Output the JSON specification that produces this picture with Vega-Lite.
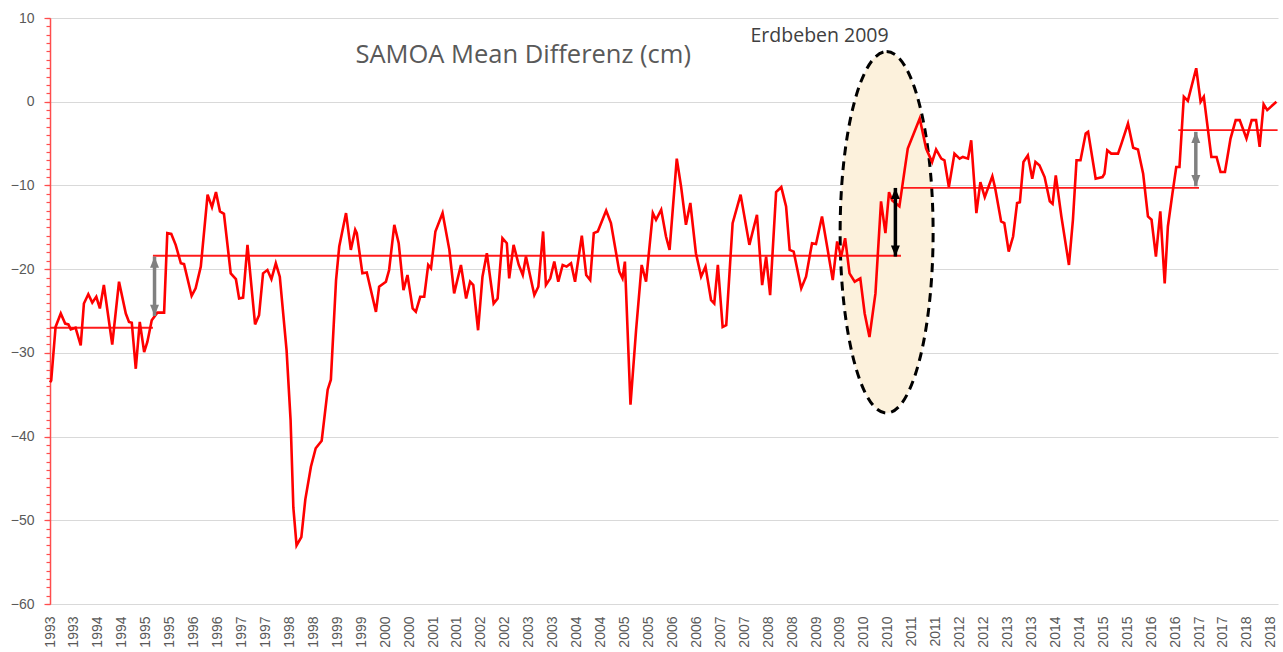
{
  "$schema": "https://vega.github.io/schema/vega-lite/v6.json",
  "width": 1228,
  "height": 586,
  "autosize": {"type": "none"},
  "padding": {"left": 50, "top": 18, "right": 5, "bottom": 48},
  "background": "white",
  "config": {"view": {"stroke": null}, "font": "Liberation Sans"},
  "resolve": {"axis": {"x": "independent", "y": "independent"}},
  "datasets": {
    "messung": [
      {"monat": 0, "wert": -33.5}, {"monat": 0.3, "wert": -33.3}, {"monat": 1.4, "wert": -26.9}, {"monat": 2.7, "wert": -25.3},
      {"monat": 3.8, "wert": -26.5}, {"monat": 4.6, "wert": -26.6}, {"monat": 5.2, "wert": -27.2}, {"monat": 6.4, "wert": -27.0},
      {"monat": 7.7, "wert": -29.1}, {"monat": 8.5, "wert": -24.1}, {"monat": 9.6, "wert": -23.0}, {"monat": 10.6, "wert": -24.0},
      {"monat": 11.6, "wert": -23.3}, {"monat": 12.5, "wert": -24.7}, {"monat": 13.5, "wert": -21.9}, {"monat": 15.6, "wert": -29.0},
      {"monat": 17.3, "wert": -21.5}, {"monat": 19.0, "wert": -25.3}, {"monat": 19.8, "wert": -26.3}, {"monat": 20.5, "wert": -26.4},
      {"monat": 21.5, "wert": -31.9}, {"monat": 22.5, "wert": -26.3}, {"monat": 23.6, "wert": -29.9}, {"monat": 24.4, "wert": -28.7},
      {"monat": 25.5, "wert": -26.1}, {"monat": 26.9, "wert": -25.2}, {"monat": 28.6, "wert": -25.2}, {"monat": 29.4, "wert": -15.7},
      {"monat": 30.4, "wert": -15.8}, {"monat": 31.5, "wert": -17.1}, {"monat": 32.8, "wert": -19.3}, {"monat": 33.6, "wert": -19.4},
      {"monat": 35.5, "wert": -23.2}, {"monat": 36.5, "wert": -22.3}, {"monat": 37.8, "wert": -19.7}, {"monat": 39.5, "wert": -11.1},
      {"monat": 40.6, "wert": -12.6}, {"monat": 41.6, "wert": -10.8}, {"monat": 42.6, "wert": -13.1}, {"monat": 43.6, "wert": -13.4},
      {"monat": 45.3, "wert": -20.5}, {"monat": 46.6, "wert": -21.2}, {"monat": 47.4, "wert": -23.5}, {"monat": 48.4, "wert": -23.4},
      {"monat": 49.5, "wert": -17.1}, {"monat": 51.4, "wert": -26.6}, {"monat": 52.4, "wert": -25.5}, {"monat": 53.4, "wert": -20.5},
      {"monat": 54.5, "wert": -20.1}, {"monat": 55.5, "wert": -21.2}, {"monat": 56.6, "wert": -19.3}, {"monat": 57.6, "wert": -20.9},
      {"monat": 59.3, "wert": -29.7}, {"monat": 60.3, "wert": -38.0}, {"monat": 61.0, "wert": -48.5}, {"monat": 61.8, "wert": -53.0},
      {"monat": 63.0, "wert": -52.0}, {"monat": 64.0, "wert": -47.5}, {"monat": 65.4, "wert": -43.6}, {"monat": 66.6, "wert": -41.4},
      {"monat": 68.1, "wert": -40.5}, {"monat": 69.6, "wert": -34.4}, {"monat": 70.4, "wert": -33.2}, {"monat": 71.7, "wert": -21.3},
      {"monat": 72.5, "wert": -17.3}, {"monat": 74.2, "wert": -13.3}, {"monat": 75.4, "wert": -17.7}, {"monat": 76.5, "wert": -15.3},
      {"monat": 76.9, "wert": -15.7}, {"monat": 78.3, "wert": -20.5}, {"monat": 79.4, "wert": -20.4}, {"monat": 81.7, "wert": -25.1},
      {"monat": 82.5, "wert": -22.1}, {"monat": 84.2, "wert": -21.5}, {"monat": 85.0, "wert": -20.1}, {"monat": 86.3, "wert": -14.7},
      {"monat": 87.4, "wert": -16.9}, {"monat": 88.6, "wert": -22.5}, {"monat": 89.6, "wert": -20.7}, {"monat": 90.9, "wert": -24.7},
      {"monat": 91.7, "wert": -25.1}, {"monat": 92.8, "wert": -23.3}, {"monat": 93.8, "wert": -23.3}, {"monat": 94.8, "wert": -19.5},
      {"monat": 95.5, "wert": -19.9}, {"monat": 96.6, "wert": -15.5}, {"monat": 98.4, "wert": -13.3}, {"monat": 100.1, "wert": -17.7},
      {"monat": 101.3, "wert": -22.9}, {"monat": 103.0, "wert": -19.5}, {"monat": 104.3, "wert": -23.5}, {"monat": 105.3, "wert": -21.5},
      {"monat": 106.1, "wert": -21.9}, {"monat": 107.3, "wert": -27.3}, {"monat": 108.4, "wert": -20.9}, {"monat": 109.5, "wert": -18.1},
      {"monat": 111.2, "wert": -24.1}, {"monat": 112.2, "wert": -23.5}, {"monat": 113.4, "wert": -16.3}, {"monat": 114.5, "wert": -16.9},
      {"monat": 115.1, "wert": -21.1}, {"monat": 116.2, "wert": -17.1}, {"monat": 117.5, "wert": -19.5}, {"monat": 118.5, "wert": -20.7},
      {"monat": 119.3, "wert": -18.5}, {"monat": 121.4, "wert": -23.1}, {"monat": 122.4, "wert": -22.1}, {"monat": 123.6, "wert": -15.5},
      {"monat": 124.3, "wert": -21.9}, {"monat": 125.4, "wert": -21.1}, {"monat": 126.4, "wert": -19.1}, {"monat": 127.4, "wert": -21.5},
      {"monat": 128.5, "wert": -19.5}, {"monat": 129.5, "wert": -19.7}, {"monat": 130.6, "wert": -19.3}, {"monat": 131.6, "wert": -21.5},
      {"monat": 133.3, "wert": -16.0}, {"monat": 134.4, "wert": -20.7}, {"monat": 135.4, "wert": -21.3}, {"monat": 136.3, "wert": -15.7},
      {"monat": 137.3, "wert": -15.5}, {"monat": 139.4, "wert": -13.0}, {"monat": 140.6, "wert": -14.5}, {"monat": 142.7, "wert": -20.3},
      {"monat": 143.5, "wert": -21.1}, {"monat": 144.1, "wert": -19.1}, {"monat": 145.5, "wert": -36.2}, {"monat": 146.9, "wert": -27.3},
      {"monat": 148.3, "wert": -19.5}, {"monat": 149.4, "wert": -21.5}, {"monat": 151.1, "wert": -13.3}, {"monat": 151.9, "wert": -14.1},
      {"monat": 153.2, "wert": -12.9}, {"monat": 154.4, "wert": -16.1}, {"monat": 155.3, "wert": -17.7}, {"monat": 157.1, "wert": -6.8},
      {"monat": 158.2, "wert": -10.2}, {"monat": 159.4, "wert": -14.7}, {"monat": 160.5, "wert": -12.1}, {"monat": 161.9, "wert": -18.1},
      {"monat": 163.2, "wert": -20.9}, {"monat": 164.3, "wert": -19.7}, {"monat": 165.7, "wert": -23.7}, {"monat": 166.5, "wert": -24.1},
      {"monat": 167.4, "wert": -19.5}, {"monat": 168.6, "wert": -26.9}, {"monat": 169.5, "wert": -26.7}, {"monat": 171.1, "wert": -14.5},
      {"monat": 173.1, "wert": -11.1}, {"monat": 175.3, "wert": -17.1}, {"monat": 177.2, "wert": -13.5}, {"monat": 178.5, "wert": -21.9},
      {"monat": 179.5, "wert": -18.5}, {"monat": 180.5, "wert": -23.1}, {"monat": 182.0, "wert": -10.8}, {"monat": 183.3, "wert": -10.2},
      {"monat": 184.5, "wert": -12.5}, {"monat": 185.4, "wert": -17.7}, {"monat": 186.4, "wert": -17.9}, {"monat": 188.3, "wert": -22.3},
      {"monat": 189.5, "wert": -20.9}, {"monat": 191.0, "wert": -16.9}, {"monat": 192.0, "wert": -17.0}, {"monat": 193.5, "wert": -13.7},
      {"monat": 195.0, "wert": -17.9}, {"monat": 196.2, "wert": -21.3}, {"monat": 197.3, "wert": -16.7}, {"monat": 198.3, "wert": -18.5},
      {"monat": 199.3, "wert": -16.3}, {"monat": 200.4, "wert": -20.5}, {"monat": 201.7, "wert": -21.5}, {"monat": 203.1, "wert": -21.1},
      {"monat": 204.2, "wert": -25.3}, {"monat": 205.4, "wert": -28.1}, {"monat": 206.9, "wert": -22.9}, {"monat": 208.3, "wert": -11.9},
      {"monat": 209.4, "wert": -15.7}, {"monat": 210.3, "wert": -10.8}, {"monat": 211.1, "wert": -11.8}, {"monat": 212.9, "wert": -12.5},
      {"monat": 214.2, "wert": -8.2}, {"monat": 215.0, "wert": -5.6}, {"monat": 218.0, "wert": -2.0}, {"monat": 219.6, "wert": -5.6},
      {"monat": 221.1, "wert": -7.2}, {"monat": 222.1, "wert": -5.7}, {"monat": 223.4, "wert": -6.8}, {"monat": 224.2, "wert": -7.0},
      {"monat": 225.3, "wert": -10.2}, {"monat": 226.7, "wert": -6.2}, {"monat": 228.0, "wert": -6.8}, {"monat": 228.8, "wert": -6.6},
      {"monat": 230.1, "wert": -6.8}, {"monat": 230.9, "wert": -4.6}, {"monat": 232.2, "wert": -13.3}, {"monat": 233.2, "wert": -9.6},
      {"monat": 234.3, "wert": -11.4}, {"monat": 236.2, "wert": -8.9}, {"monat": 236.9, "wert": -10.3}, {"monat": 238.4, "wert": -14.3},
      {"monat": 239.2, "wert": -14.5}, {"monat": 240.3, "wert": -17.9}, {"monat": 241.4, "wert": -16.1}, {"monat": 242.4, "wert": -12.1},
      {"monat": 243.1, "wert": -12.0}, {"monat": 244.0, "wert": -7.2}, {"monat": 245.1, "wert": -6.4}, {"monat": 246.2, "wert": -9.2},
      {"monat": 247.0, "wert": -7.2}, {"monat": 248.0, "wert": -7.6}, {"monat": 249.3, "wert": -9.0}, {"monat": 250.6, "wert": -11.9},
      {"monat": 251.3, "wert": -12.2}, {"monat": 252.1, "wert": -8.8}, {"monat": 253.5, "wert": -13.7}, {"monat": 255.4, "wert": -19.5},
      {"monat": 256.4, "wert": -14.1}, {"monat": 257.3, "wert": -7.0}, {"monat": 258.3, "wert": -7.0}, {"monat": 259.6, "wert": -3.8},
      {"monat": 260.2, "wert": -3.6}, {"monat": 262.1, "wert": -9.2}, {"monat": 263.8, "wert": -9.0}, {"monat": 264.3, "wert": -8.6},
      {"monat": 265.0, "wert": -5.8}, {"monat": 266.0, "wert": -6.2}, {"monat": 267.7, "wert": -6.2}, {"monat": 268.5, "wert": -5.1},
      {"monat": 270.2, "wert": -2.6}, {"monat": 271.5, "wert": -5.5}, {"monat": 272.7, "wert": -5.7}, {"monat": 274.0, "wert": -8.6},
      {"monat": 275.2, "wert": -13.7}, {"monat": 276.1, "wert": -14.1}, {"monat": 277.2, "wert": -18.5}, {"monat": 278.3, "wert": -13.1},
      {"monat": 279.4, "wert": -21.7}, {"monat": 280.2, "wert": -14.9}, {"monat": 281.3, "wert": -11.1}, {"monat": 282.3, "wert": -7.8},
      {"monat": 283.1, "wert": -7.8}, {"monat": 284.2, "wert": 0.6}, {"monat": 285.2, "wert": 0.1}, {"monat": 287.3, "wert": 4.0},
      {"monat": 288.4, "wert": 0.0}, {"monat": 289.2, "wert": 0.6}, {"monat": 291.1, "wert": -6.6}, {"monat": 292.4, "wert": -6.6},
      {"monat": 293.4, "wert": -8.4}, {"monat": 294.5, "wert": -8.4}, {"monat": 295.9, "wert": -4.4}, {"monat": 297.2, "wert": -2.2},
      {"monat": 298.2, "wert": -2.2}, {"monat": 299.9, "wert": -4.4}, {"monat": 301.2, "wert": -2.2}, {"monat": 302.3, "wert": -2.2},
      {"monat": 303.2, "wert": -5.4}, {"monat": 304.2, "wert": -0.3}, {"monat": 305.1, "wert": -1.0}, {"monat": 307.4, "wert": 0.0}
    ],
    "niveau": [
      {"von": 0, "bis": 25.8, "wert": -27.0},
      {"von": 25.8, "bis": 213.3, "wert": -18.4},
      {"von": 213.3, "bis": 288.0, "wert": -10.3},
      {"von": 282.8, "bis": 307.7, "wert": -3.4}
    ],
    "pfeile": [
      {"monat": 26.2, "oben": -18.5, "unten": -25.6, "art": "Niveau"},
      {"monat": 211.9, "oben": -10.3, "unten": -18.5, "art": "Erdbeben"},
      {"monat": 287.2, "oben": -3.6, "unten": -10.1, "art": "Niveau"}
    ],
    "notiz": [{"text": "SAMOA Mean Differenz (cm)"}],
    "ereignis": [{"text": "Erdbeben 2009"}]
  },
  "layer": [
    {
      "data": {"name": "ereignis"},
      "mark": {"type": "point", "shape": "M0,-1C0.1421,-1,0.2573,-0.5523,0.2573,0C0.2573,0.5523,0.1421,1,0,1C-0.1421,1,-0.2573,0.5523,-0.2573,0C-0.2573,-0.5523,-0.1421,-1,0,-1Z", "size": 130610, "filled": true, "fill": "#fcf1dc", "fillOpacity": 1, "opacity": 1, "stroke": "#000000", "strokeWidth": 3, "strokeDash": [9, 6]},
      "encoding": {
        "x": {"datum": 209.7, "type": "quantitative", "axis": null},
        "y": {"datum": -15.6, "type": "quantitative", "axis": null}
      }
    },
    {
      "data": {"name": "niveau"},
      "mark": {"type": "rule", "color": "#ff1a1a", "strokeWidth": 1.8},
      "encoding": {
        "x": {"field": "von", "type": "quantitative", "axis": null},
        "x2": {"field": "bis"},
        "y": {"field": "wert", "type": "quantitative", "title": null,
          "axis": {"orient": "left", "values": [-60,-59,-58,-57,-56,-55,-54,-53,-52,-51,-50,-49,-48,-47,-46,-45,-44,-43,-42,-41,-40,-39,-38,-37,-36,-35,-34,-33,-32,-31,-30,-29,-28,-27,-26,-25,-24,-23,-22,-21,-20,-19,-18,-17,-16,-15,-14,-13,-12,-11,-10,-9,-8,-7,-6,-5,-4,-3,-2,-1,0,1,2,3,4,5,6,7,8,9,10],
            "labels": false, "grid": false, "domain": false, "ticks": true, "tickSize": 4, "tickColor": "#ff4d4d", "tickWidth": 1.2, "title": null}}
      }
    },
    {
      "data": {"name": "messung"},
      "mark": {"type": "line", "color": "#ff0000", "strokeWidth": 2.6},
      "encoding": {
        "x": {"field": "monat", "type": "quantitative", "title": null,
          "scale": {"domain": [0, 307.8], "nice": false, "zero": false},
          "axis": {"values": [0,6,12,18,24,30,36,42,48,54,60,66,72,78,84,90,96,102,108,114,120,126,132,138,144,150,156,162,168,174,180,186,192,198,204,210,216,222,228,234,240,246,252,258,264,270,276,282,288,294,300,306],
            "labelExpr": "1993 + floor(datum.value / 12)", "labelAngle": -90, "labelFontSize": 14, "labelColor": "#595959",
            "grid": false, "ticks": false, "domain": false, "labelPadding": 12, "title": null, "labelOverlap": false, "labelBound": false, "labelFlush": false}},
        "y": {"field": "wert", "type": "quantitative", "title": null,
          "scale": {"domain": [-60, 10], "nice": false, "zero": false},
          "axis": {"orient": "left", "values": [-60, -50, -40, -30, -20, -10, 0, 10],
            "labelOverlap": false, "labelFontSize": 14, "labelColor": "#595959", "labelPadding": 10,
            "domainColor": "#ff4d4d", "domainWidth": 1.5, "tickColor": "#ff4d4d", "tickWidth": 1.2, "tickSize": 6,
            "grid": true, "gridColor": "#d9d9d9", "gridWidth": 1, "title": null}}
      }
    },
    {
      "data": {"name": "pfeile"},
      "mark": {"type": "rule", "strokeWidth": 3.5},
      "encoding": {
        "x": {"field": "monat", "type": "quantitative", "axis": null},
        "y": {"field": "oben", "type": "quantitative", "axis": null},
        "y2": {"field": "unten"},
        "color": {"field": "art", "type": "nominal", "scale": {"domain": ["Niveau", "Erdbeben"], "range": ["#808080", "#000000"]}, "legend": null}
      }
    },
    {
      "data": {"name": "pfeile"},
      "mark": {"type": "point", "shape": "M0,0L1,2.5L-1,2.5Z", "size": 80, "filled": true, "opacity": 1},
      "encoding": {
        "x": {"field": "monat", "type": "quantitative", "axis": null},
        "y": {"field": "oben", "type": "quantitative", "axis": null},
        "color": {"field": "art", "type": "nominal", "legend": null}
      }
    },
    {
      "data": {"name": "pfeile"},
      "mark": {"type": "point", "shape": "M0,0L1,-2.5L-1,-2.5Z", "size": 80, "filled": true, "opacity": 1},
      "encoding": {
        "x": {"field": "monat", "type": "quantitative", "axis": null},
        "y": {"field": "unten", "type": "quantitative", "axis": null},
        "color": {"field": "art", "type": "nominal", "legend": null}
      }
    },
    {
      "data": {"name": "notiz"},
      "mark": {"type": "text", "font": "Open Sans", "fontSize": 25.5, "color": "#595959", "align": "center", "baseline": "middle"},
      "encoding": {
        "x": {"datum": 118.6, "type": "quantitative", "axis": null},
        "y": {"datum": 5.6, "type": "quantitative", "axis": null},
        "text": {"field": "text"}
      }
    },
    {
      "data": {"name": "ereignis"},
      "mark": {"type": "text", "font": "Open Sans", "fontSize": 19.5, "color": "#404040", "align": "center", "baseline": "middle"},
      "encoding": {
        "x": {"datum": 192.9, "type": "quantitative", "axis": null},
        "y": {"datum": 7.85, "type": "quantitative", "axis": null},
        "text": {"field": "text"}
      }
    }
  ]
}
